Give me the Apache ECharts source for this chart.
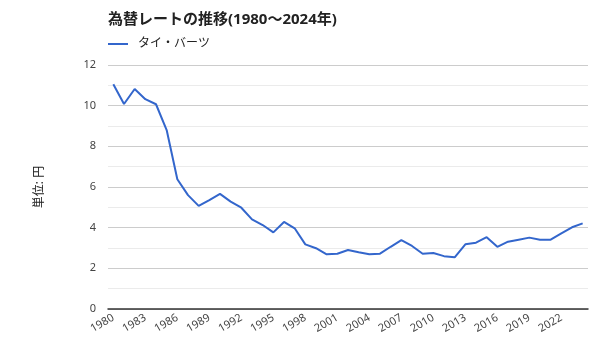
<!DOCTYPE html>
<html><head><meta charset="utf-8">
<script src="https://cdn.jsdelivr.net/npm/echarts@6/dist/echarts.min.js"></script>
<style>html,body{margin:0;padding:0;background:#fff}#c{width:600px;height:360px}</style>
</head><body><div id="c"></div>
<script>
const years = [];
for (let y = 1980; y <= 2024; y++) years.push(String(y));
const seriesName = 'タイ・バーツ';
const baht = [11.05, 10.08, 10.82, 10.32, 10.07, 8.8, 6.38, 5.6, 5.07, 5.36, 5.66, 5.28, 4.98, 4.41, 4.13, 3.77, 4.28, 3.97, 3.18, 2.99, 2.69, 2.72, 2.9, 2.79, 2.69, 2.72, 3.06, 3.39, 3.1, 2.72, 2.75, 2.6, 2.54, 3.18, 3.26, 3.53, 3.06, 3.31, 3.41, 3.51, 3.41, 3.41, 3.72, 4.02, 4.21];
const titleText = '為替レートの推移(1980～2024年)';
const yTitle = '単位: 円';

const font = '"Noto Sans", "Noto Sans CJK JP", sans-serif';
const chart = echarts.init(document.getElementById('c'));
chart.setOption({
  animation: false,
  textStyle: { fontFamily: font },
  title: { text: titleText, left: 103, top: 7, textStyle: { fontSize: 15, fontWeight: 'bold', color: '#222', fontFamily: font } },
  legend: { data: [seriesName], left: 103, top: 33, itemWidth: 20, itemHeight: 2, itemGap: 5, icon: 'rect',
    textStyle: { fontSize: 12, color: '#222', fontFamily: font, padding: [0, 0, 0, 5] } },
  grid: { left: 108, right: 12, top: 65, bottom: 51, containLabel: false },
  xAxis: {
    type: 'category', data: years, boundaryGap: true,
    axisLine: { lineStyle: { color: '#333', width: 1.5 } },
    axisTick: { show: false },
    axisLabel: { interval: 2, rotate: 30, color: '#444', fontSize: 11, margin: 8, fontFamily: font }
  },
  yAxis: {
    type: 'value', min: 0, max: 12, interval: 2,
    name: yTitle, nameLocation: 'middle', nameGap: 62, nameRotate: 90,
    nameTextStyle: { color: '#222', fontSize: 12, fontFamily: font },
    axisLine: { show: false }, axisTick: { show: false },
    axisLabel: { color: '#444', fontSize: 11, margin: 12, fontFamily: font },
    splitLine: { lineStyle: { color: '#ccc' } },
    minorTick: { show: false, splitNumber: 2 },
    minorSplitLine: { show: true, lineStyle: { color: '#ebebeb' } }
  },
  series: [{
    name: seriesName, type: 'line', data: baht, symbol: 'none',
    lineStyle: { color: '#3366cc', width: 2 }, itemStyle: { color: '#3366cc' }
  }]
});
</script></body></html>
